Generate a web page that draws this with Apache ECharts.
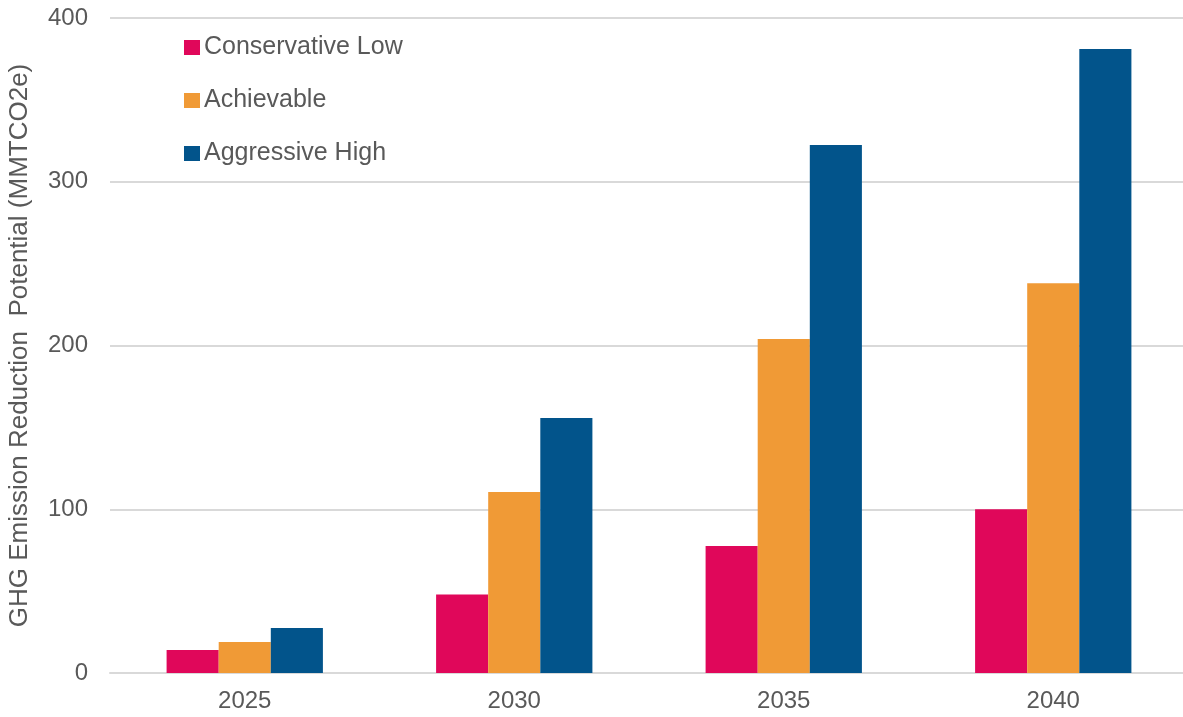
<!DOCTYPE html>
<html><head><meta charset="utf-8">
<script src="https://cdn.jsdelivr.net/npm/echarts@6/dist/echarts.min.js"></script>
<style>html,body{margin:0;padding:0;background:#fff}#c{width:1183px;height:717px}</style>
</head><body><div id="c"></div>
<script>
const categories = ['2025', '2030', '2035', '2040'];
const conservativeLow = [14, 48, 77.5, 100];
const achievable = [19, 110.5, 204, 238];
const aggressiveHigh = [27.5, 155.7, 322.4, 381];
const yTicks = [0, 100, 200, 300, 400];

const font = '"Liberation Sans", Arial, sans-serif';
const chart = echarts.init(document.getElementById('c'));
chart.setOption({
  animation: false,
  textStyle: { fontFamily: font },
  grid: { left: 110, width: 1078, top: 18, bottom: 44, outerBoundsMode: 'none', containLabel: false },
  legend: {
    orient: 'vertical', left: 179, top: 30, itemWidth: 16, itemHeight: 15, itemGap: 28,
    icon: 'rect',
    textStyle: { fontSize: 25, lineHeight: 25, color: '#595959', fontFamily: font, padding: [0, 0, 0, -1] },
    data: ['Conservative Low', 'Achievable', 'Aggressive High']
  },
  xAxis: {
    type: 'category', data: categories,
    axisLine: { lineStyle: { color: '#d9d9d9', width: 2 } },
    axisTick: { show: false },
    axisLabel: { fontSize: 24, color: '#595959', margin: 16, fontFamily: font }
  },
  yAxis: {
    type: 'value', min: yTicks[0], max: yTicks[yTicks.length - 1], interval: 100,
    name: 'GHG Emission Reduction  Potential (MMTCO2e)',
    nameLocation: 'middle', nameGap: 77,
    nameTextStyle: { fontSize: 26, color: '#595959', fontFamily: font },
    axisLabel: { fontSize: 24, color: '#595959', margin: 22, fontFamily: font },
    splitLine: { lineStyle: { color: '#d9d9d9', width: 2 } },
    axisLine: { show: false }, axisTick: { show: false }
  },
  series: [
    { name: 'Conservative Low', type: 'bar', data: conservativeLow, itemStyle: { color: '#E0075A' }, barGap: '0%', barCategoryGap: '42%' },
    { name: 'Achievable', type: 'bar', data: achievable, itemStyle: { color: '#F09A36' }, barGap: '0%', barCategoryGap: '42%' },
    { name: 'Aggressive High', type: 'bar', data: aggressiveHigh, itemStyle: { color: '#02548B' }, barGap: '0%', barCategoryGap: '42%' }
  ]
});
</script></body></html>
